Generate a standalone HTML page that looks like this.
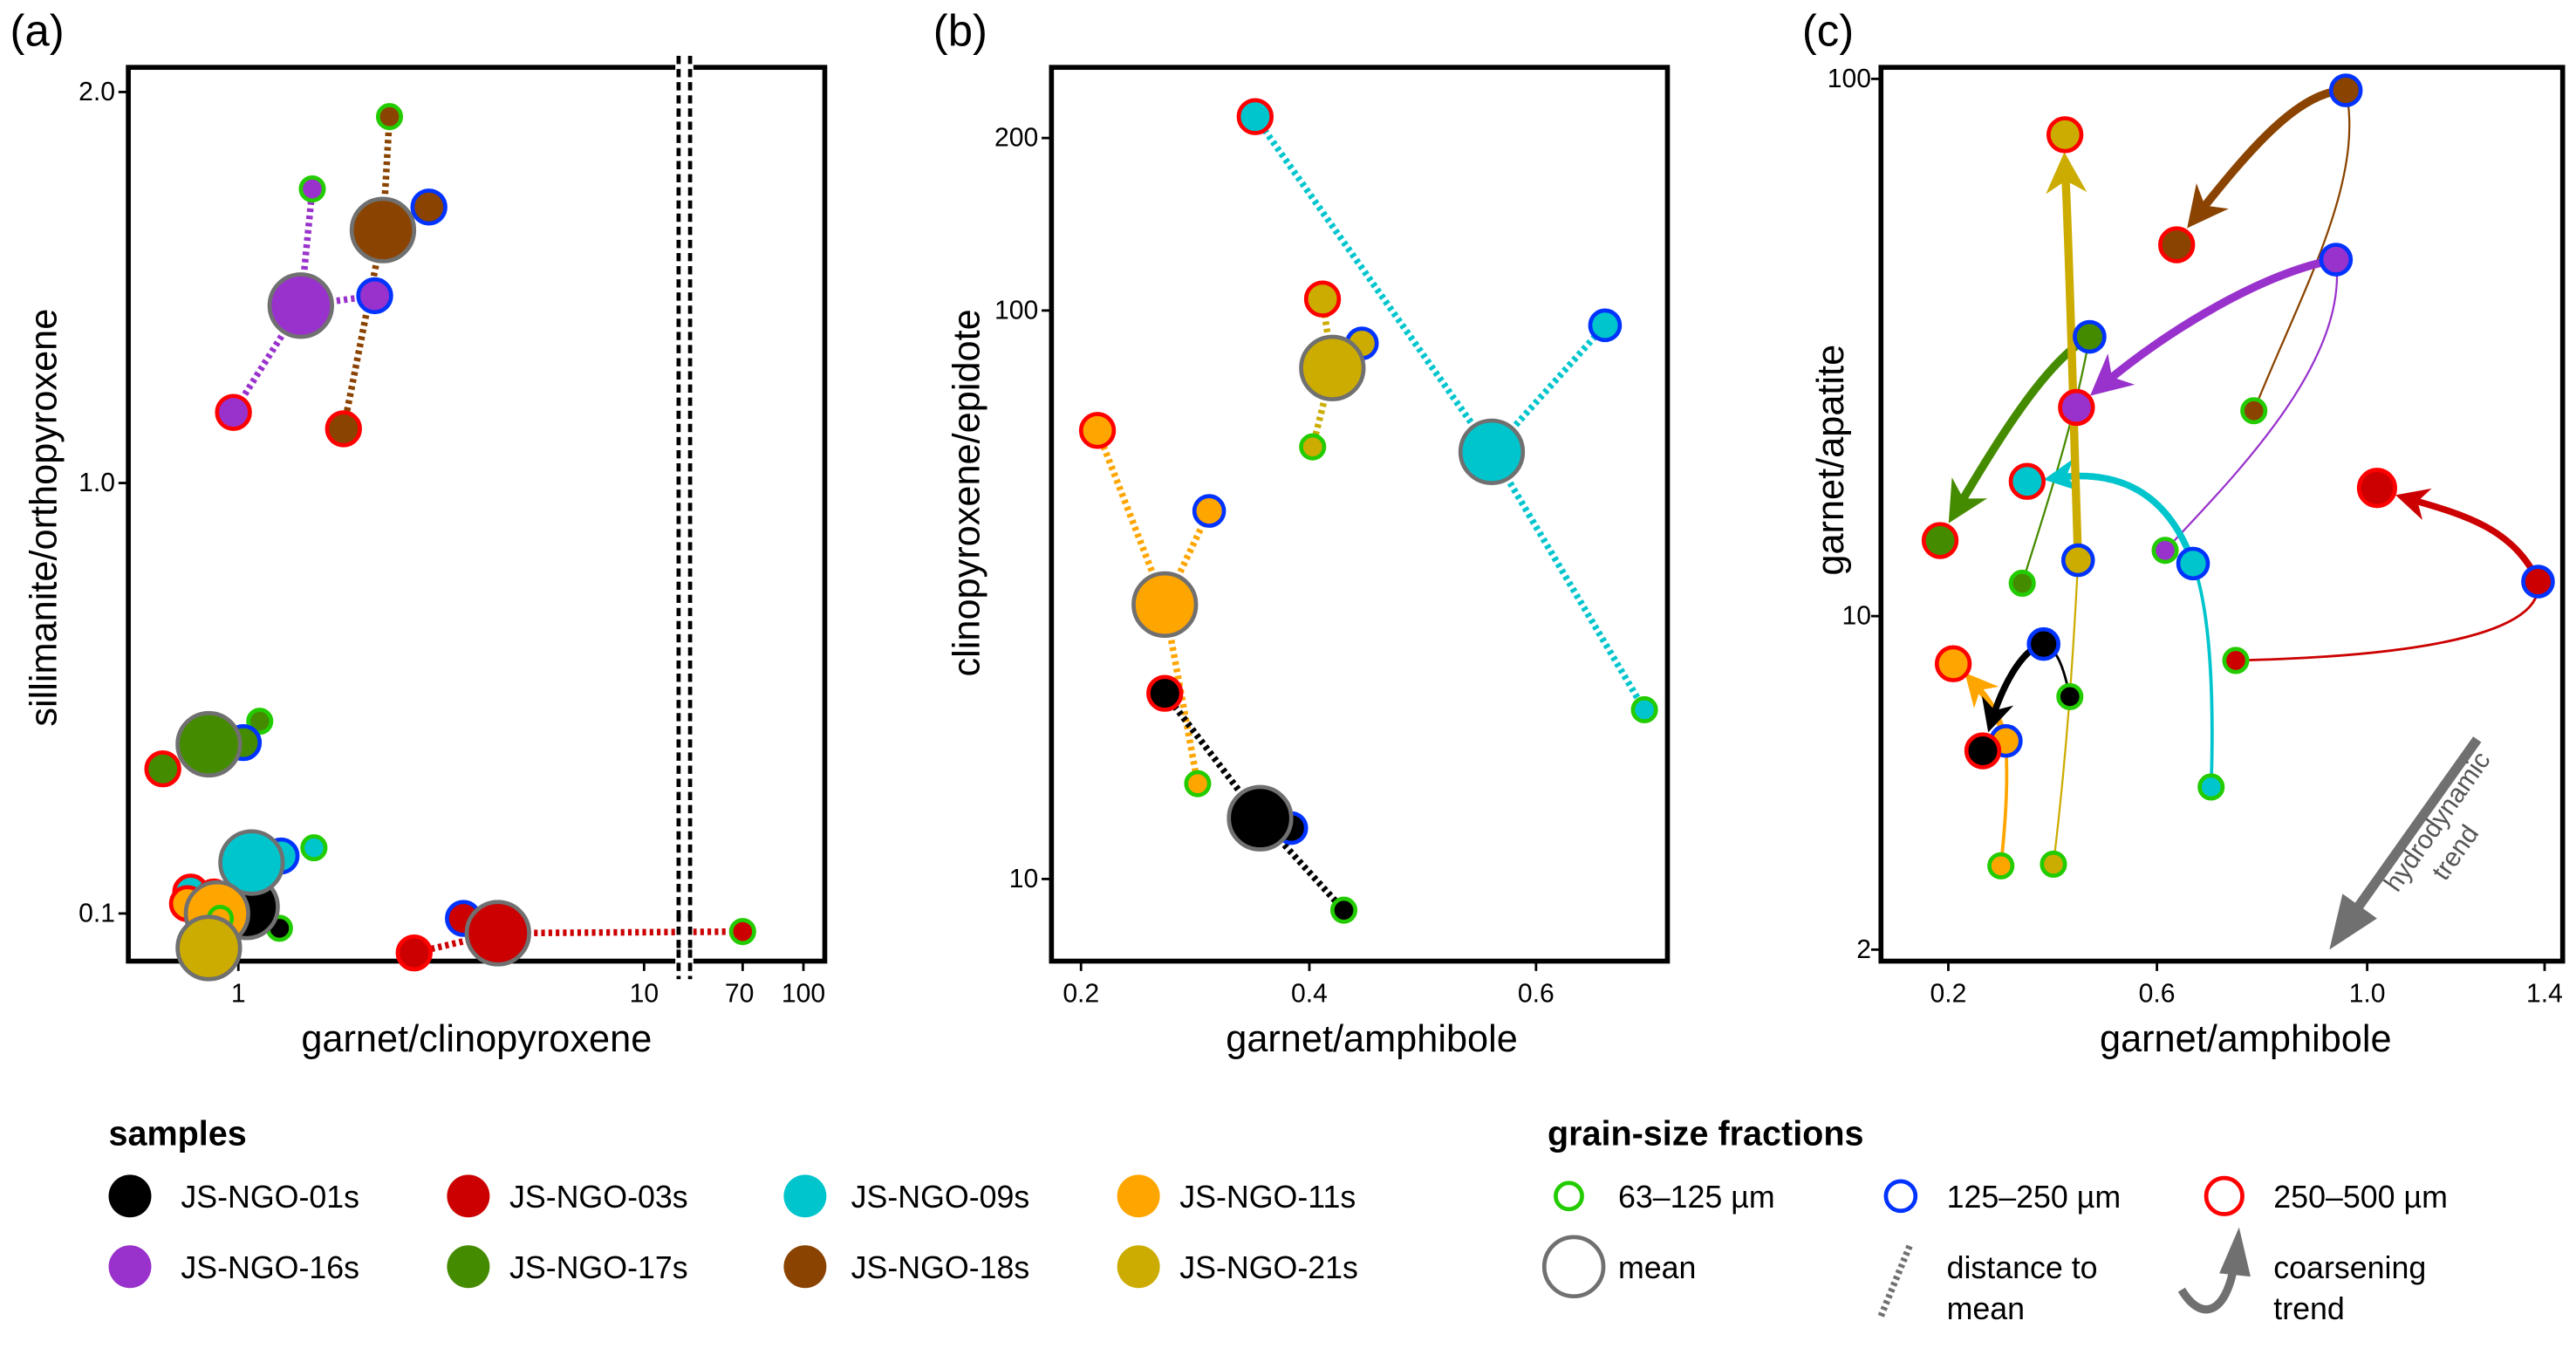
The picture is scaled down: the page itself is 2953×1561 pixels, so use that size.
<!DOCTYPE html>
<html><head><meta charset="utf-8"><style>
html,body{margin:0;padding:0;background:#fff;}
svg{display:block;}
text{font-family:"Liberation Sans",sans-serif;fill:#000;}
.tk{font-size:16px;}
.at{font-size:23px;}
.pl{font-size:27px;}
.lg{font-size:19px;}
.dot{stroke-width:4;stroke-dasharray:2.2 2.2;fill:none;}
.fr{fill:none;stroke:#000;stroke-width:3;}
</style></head><body>
<svg width="2953" height="1561" viewBox="0 0 1568 829" xmlns="http://www.w3.org/2000/svg">
<defs>
<marker id="ah" viewBox="0 0 10 10" refX="7" refY="5" markerWidth="5" markerHeight="5" orient="auto" markerUnits="strokeWidth"><path d="M0,0 L10,5 L0,10 L3,5 Z" fill="context-stroke"/></marker>
<marker id="ah2" viewBox="0 0 10 10" refX="7" refY="5" markerWidth="9" markerHeight="9" orient="auto" markerUnits="strokeWidth"><path d="M0,0 L10,5 L0,10 L3,5 Z" fill="context-stroke"/></marker>
</defs>

<!-- Panel (a) -->
<text class="pl" x="6" y="28">(a)</text>
<text class="at" transform="translate(34,315) rotate(-90)" text-anchor="middle">sillimanite/orthopyroxene</text>
<text class="at" x="290" y="640" text-anchor="middle">garnet/clinopyroxene</text>
<g class="tk" text-anchor="end">
<text x="70" y="61">2.0</text><text x="70" y="299">1.0</text><text x="70" y="561">0.1</text>
</g>
<g stroke="#000" stroke-width="1.5">
<line x1="72" y1="56" x2="78" y2="56"/><line x1="72" y1="294" x2="78" y2="294"/><line x1="72" y1="556" x2="78" y2="556"/>
<line x1="145" y1="585" x2="145" y2="591"/><line x1="392" y1="585" x2="392" y2="591"/><line x1="452" y1="585" x2="452" y2="591"/><line x1="489" y1="585" x2="489" y2="591"/>
</g>
<g class="tk" text-anchor="middle">
<text x="145" y="610">1</text><text x="392" y="610">10</text><text x="450" y="610">70</text><text x="489" y="610">100</text>
</g>
<rect class="fr" x="78" y="41" width="424" height="544"/>
<rect x="411" y="36" width="11" height="560" fill="#fff"/>
<g stroke="#000" stroke-width="2.5" stroke-dasharray="5 3"><line x1="413" y1="34" x2="413" y2="596"/><line x1="420" y1="34" x2="420" y2="596"/></g>

<g class="dot">
<path d="M233,140 L237,71 M233,140 L261,126 M233,140 L209,261" stroke="#8a4300"/>
<path d="M183,186 L190,115 M183,186 L228,180 M183,186 L142,251" stroke="#9932cc"/>
<path d="M303,568 L452,567 M303,568 L252,580 M303,568 L282,559" stroke="#cc0000"/>
</g>
<rect x="411" y="560" width="11" height="14" fill="#fff"/>
<g stroke="#000" stroke-width="2.5" stroke-dasharray="5 3"><line x1="413" y1="556" x2="413" y2="580"/><line x1="420" y1="556" x2="420" y2="580"/></g>
<g stroke-width="2.5">
<circle cx="237" cy="71" r="7" fill="#8a4300" stroke="#22cc00"/>
<circle cx="261" cy="126" r="10" fill="#8a4300" stroke="#0033ff"/>
<circle cx="209" cy="261" r="10" fill="#8a4300" stroke="#ff0000"/>
<circle cx="233" cy="140" r="19" fill="#8a4300" stroke="#707070"/>
<circle cx="190" cy="115" r="7" fill="#9932cc" stroke="#22cc00"/>
<circle cx="228" cy="180" r="10" fill="#9932cc" stroke="#0033ff"/>
<circle cx="142" cy="251" r="10" fill="#9932cc" stroke="#ff0000"/>
<circle cx="183" cy="186" r="19" fill="#9932cc" stroke="#707070"/>
<circle cx="158" cy="439" r="7" fill="#458b00" stroke="#22cc00"/>
<circle cx="148" cy="452" r="10" fill="#458b00" stroke="#0033ff"/>
<circle cx="99" cy="468" r="10" fill="#458b00" stroke="#ff0000"/>
<circle cx="127" cy="453" r="19" fill="#458b00" stroke="#707070"/>
<circle cx="191" cy="516" r="7" fill="#00c5cd" stroke="#22cc00"/>
<circle cx="171" cy="521" r="10" fill="#00c5cd" stroke="#0033ff"/>
<circle cx="116" cy="543" r="10" fill="#00c5cd" stroke="#ff0000"/>
<circle cx="130" cy="546" r="10" fill="#000" stroke="#ff0000"/>
<circle cx="170" cy="565" r="7" fill="#000" stroke="#22cc00"/>
<circle cx="150" cy="552" r="19" fill="#000" stroke="#707070"/>
<circle cx="114" cy="550" r="10" fill="#ffa500" stroke="#ff0000"/>
<circle cx="153" cy="525" r="19" fill="#00c5cd" stroke="#707070"/>
<circle cx="132" cy="556" r="19" fill="#ffa500" stroke="#707070"/>
<circle cx="134" cy="559" r="7" fill="#ffa500" stroke="#22cc00"/>
<circle cx="127" cy="577" r="19" fill="#ccac00" stroke="#707070"/>
<circle cx="452" cy="567" r="7" fill="#cc0000" stroke="#22cc00"/>
<circle cx="282" cy="559" r="10" fill="#cc0000" stroke="#0033ff"/>
<circle cx="252" cy="580" r="10" fill="#cc0000" stroke="#ff0000"/>
<circle cx="303" cy="568" r="19" fill="#cc0000" stroke="#707070"/>
</g>

<!-- Panel (b) -->
<text class="pl" x="568" y="28">(b)</text>
<text class="at" transform="translate(596,300) rotate(-90)" text-anchor="middle">clinopyroxene/epidote</text>
<text class="at" x="835" y="640" text-anchor="middle">garnet/amphibole</text>
<g class="tk" text-anchor="end">
<text x="632" y="89">200</text><text x="632" y="194">100</text><text x="632" y="540">10</text>
</g>
<g stroke="#000" stroke-width="1.5">
<line x1="634" y1="84" x2="640" y2="84"/><line x1="634" y1="189" x2="640" y2="189"/><line x1="634" y1="535" x2="640" y2="535"/>
<line x1="658" y1="585" x2="658" y2="591"/><line x1="797" y1="585" x2="797" y2="591"/><line x1="935" y1="585" x2="935" y2="591"/>
</g>
<g class="tk" text-anchor="middle">
<text x="658" y="610">0.2</text><text x="797" y="610">0.4</text><text x="935" y="610">0.6</text>
</g>
<rect class="fr" x="640" y="41" width="375" height="544"/>
<g class="dot">
<path d="M908,275 L764,71 M908,275 L977,198 M908,275 L1001,432" stroke="#00c5cd"/>
<path d="M811,224 L805,182 M811,224 L829,209 M811,224 L799,272" stroke="#ccac00"/>
<path d="M709,368 L668,262 M709,368 L736,311 M709,368 L729,477" stroke="#ffa500"/>
<path d="M767,498 L709,422 M767,498 L786,504 M767,498 L818,554" stroke="#000"/>
</g>
<g stroke-width="2.5">
<circle cx="764" cy="71" r="10" fill="#00c5cd" stroke="#ff0000"/>
<circle cx="977" cy="198" r="9" fill="#00c5cd" stroke="#0033ff"/>
<circle cx="1001" cy="432" r="7" fill="#00c5cd" stroke="#22cc00"/>
<circle cx="908" cy="275" r="19" fill="#00c5cd" stroke="#707070"/>
<circle cx="805" cy="182" r="10" fill="#ccac00" stroke="#ff0000"/>
<circle cx="829" cy="209" r="9" fill="#ccac00" stroke="#0033ff"/>
<circle cx="799" cy="272" r="7" fill="#ccac00" stroke="#22cc00"/>
<circle cx="811" cy="224" r="19" fill="#ccac00" stroke="#707070"/>
<circle cx="668" cy="262" r="10" fill="#ffa500" stroke="#ff0000"/>
<circle cx="736" cy="311" r="9" fill="#ffa500" stroke="#0033ff"/>
<circle cx="729" cy="477" r="7" fill="#ffa500" stroke="#22cc00"/>
<circle cx="709" cy="368" r="19" fill="#ffa500" stroke="#707070"/>
<circle cx="709" cy="422" r="10" fill="#000" stroke="#ff0000"/>
<circle cx="786" cy="504" r="9" fill="#000" stroke="#0033ff"/>
<circle cx="818" cy="554" r="7" fill="#000" stroke="#22cc00"/>
<circle cx="767" cy="498" r="19" fill="#000" stroke="#707070"/>
</g>

<!-- Panel (c) -->
<text class="pl" x="1097" y="28">(c)</text>
<text class="at" transform="translate(1122,280) rotate(-90)" text-anchor="middle">garnet/apatite</text>
<text class="at" x="1367" y="640" text-anchor="middle">garnet/amphibole</text>
<g class="tk" text-anchor="end">
<text x="1139" y="53">100</text><text x="1139" y="380">10</text><text x="1139" y="583">2</text>
</g>
<g stroke="#000" stroke-width="1.5">
<line x1="1139" y1="48" x2="1145" y2="48"/><line x1="1139" y1="375" x2="1145" y2="375"/><line x1="1139" y1="578" x2="1145" y2="578"/>
<line x1="1186" y1="585" x2="1186" y2="591"/><line x1="1313" y1="585" x2="1313" y2="591"/><line x1="1441" y1="585" x2="1441" y2="591"/><line x1="1549" y1="585" x2="1549" y2="591"/>
</g>
<g class="tk" text-anchor="middle">
<text x="1186" y="610">0.2</text><text x="1313" y="610">0.6</text><text x="1441" y="610">1.0</text><text x="1549" y="610">1.4</text>
</g>
<rect class="fr" x="1145" y="41" width="415" height="544"/>

<!-- hydrodynamic trend -->
<line x1="1508" y1="450" x2="1432" y2="557" stroke="#707070" stroke-width="6"/>
<polygon points="1418,578 1426,544 1447,559" fill="#707070"/>
<text transform="translate(1488,503) rotate(-55)" text-anchor="middle" font-size="16" style="fill:#555">hydrodynamic</text>
<text transform="translate(1499,522) rotate(-55)" text-anchor="middle" font-size="16" style="fill:#555">trend</text>

<g fill="none" stroke-linecap="round">
<path d="M1372,250 C1400,180 1440,110 1428,55" stroke="#8a4300" stroke-width="1.2"/>
<path d="M1318,335 C1360,290 1430,220 1422,158" stroke="#9932cc" stroke-width="1.2"/>
<path d="M1231,355 C1245,310 1262,260 1272,205" stroke="#458b00" stroke-width="1.2"/>
<path d="M1346,479 C1348,420 1345,370 1335,343" stroke="#00c5cd" stroke-width="2"/>
<path d="M1250,526 C1258,460 1262,400 1265,341" stroke="#ccac00" stroke-width="1.2"/>
<path d="M1218,527 C1222,490 1222,470 1221,451" stroke="#ffa500" stroke-width="2"/>
<path d="M1260,424 C1256,405 1252,395 1244,392" stroke="#000" stroke-width="1.5"/>
<path d="M1361,402 C1450,400 1550,390 1545,354" stroke="#cc0000" stroke-width="1.5"/>
<path d="M1428,55 C1400,55 1370,90 1336,133" stroke="#8a4300" stroke-width="5" marker-end="url(#ah)"/>
<path d="M1422,158 C1380,165 1320,200 1278,236" stroke="#9932cc" stroke-width="5" marker-end="url(#ah)"/>
<path d="M1272,205 C1245,220 1215,270 1190,312" stroke="#458b00" stroke-width="5" marker-end="url(#ah)"/>
<path d="M1335,343 C1320,300 1290,285 1250,291" stroke="#00c5cd" stroke-width="4" marker-end="url(#ah)"/>
<path d="M1265,341 C1262,250 1260,160 1257,100" stroke="#ccac00" stroke-width="5" marker-end="url(#ah)"/>
<path d="M1221,451 C1215,430 1207,422 1200,414" stroke="#ffa500" stroke-width="4" marker-end="url(#ah)"/>
<path d="M1244,392 C1230,395 1218,420 1212,440" stroke="#000" stroke-width="4" marker-end="url(#ah)"/>
<path d="M1545,354 C1530,320 1495,312 1464,303" stroke="#cc0000" stroke-width="4" marker-end="url(#ah)"/>
</g>
<g stroke-width="2.5">
<circle cx="1372" cy="250" r="7" fill="#8a4300" stroke="#22cc00"/>
<circle cx="1428" cy="55" r="9" fill="#8a4300" stroke="#0033ff"/>
<circle cx="1325" cy="149" r="10" fill="#8a4300" stroke="#ff0000"/>
<circle cx="1318" cy="335" r="7" fill="#9932cc" stroke="#22cc00"/>
<circle cx="1422" cy="158" r="9" fill="#9932cc" stroke="#0033ff"/>
<circle cx="1264" cy="248" r="10" fill="#9932cc" stroke="#ff0000"/>
<circle cx="1231" cy="355" r="7" fill="#458b00" stroke="#22cc00"/>
<circle cx="1272" cy="205" r="9" fill="#458b00" stroke="#0033ff"/>
<circle cx="1181" cy="329" r="10" fill="#458b00" stroke="#ff0000"/>
<circle cx="1346" cy="479" r="7" fill="#00c5cd" stroke="#22cc00"/>
<circle cx="1335" cy="343" r="9" fill="#00c5cd" stroke="#0033ff"/>
<circle cx="1234" cy="293" r="10" fill="#00c5cd" stroke="#ff0000"/>
<circle cx="1250" cy="526" r="7" fill="#ccac00" stroke="#22cc00"/>
<circle cx="1265" cy="341" r="9" fill="#ccac00" stroke="#0033ff"/>
<circle cx="1257" cy="82" r="10" fill="#ccac00" stroke="#ff0000"/>
<circle cx="1218" cy="527" r="7" fill="#ffa500" stroke="#22cc00"/>
<circle cx="1221" cy="451" r="9" fill="#ffa500" stroke="#0033ff"/>
<circle cx="1189" cy="404" r="10" fill="#ffa500" stroke="#ff0000"/>
<circle cx="1260" cy="424" r="7" fill="#000" stroke="#22cc00"/>
<circle cx="1244" cy="392" r="9" fill="#000" stroke="#0033ff"/>
<circle cx="1207" cy="457" r="10" fill="#000" stroke="#ff0000"/>
<circle cx="1361" cy="402" r="7" fill="#cc0000" stroke="#22cc00"/>
<circle cx="1545" cy="354" r="9" fill="#cc0000" stroke="#0033ff"/>
<circle cx="1447" cy="297" r="11" fill="#cc0000" stroke="#ff0000"/>
</g>

<!-- Legend: samples -->
<text x="66" y="697" font-size="21" font-weight="bold">samples</text>
<g>
<circle cx="79" cy="728" r="13" fill="#000"/><text class="lg" x="110" y="735">JS-NGO-01s</text>
<circle cx="285" cy="728" r="13" fill="#cc0000"/><text class="lg" x="310" y="735">JS-NGO-03s</text>
<circle cx="490" cy="728" r="13" fill="#00c5cd"/><text class="lg" x="518" y="735">JS-NGO-09s</text>
<circle cx="693" cy="728" r="13" fill="#ffa500"/><text class="lg" x="718" y="735">JS-NGO-11s</text>
<circle cx="79" cy="771" r="13" fill="#9932cc"/><text class="lg" x="110" y="778">JS-NGO-16s</text>
<circle cx="285" cy="771" r="13" fill="#458b00"/><text class="lg" x="310" y="778">JS-NGO-17s</text>
<circle cx="490" cy="771" r="13" fill="#8a4300"/><text class="lg" x="518" y="778">JS-NGO-18s</text>
<circle cx="693" cy="771" r="13" fill="#ccac00"/><text class="lg" x="718" y="778">JS-NGO-21s</text>
</g>

<!-- Legend: grain-size fractions -->
<text x="942" y="697" font-size="21" font-weight="bold">grain-size fractions</text>
<circle cx="955" cy="728" r="8" fill="none" stroke="#22cc00" stroke-width="2.5"/><text class="lg" x="985" y="735">63–125 µm</text>
<circle cx="1157" cy="728" r="9" fill="none" stroke="#0033ff" stroke-width="2.5"/><text class="lg" x="1185" y="735">125–250 µm</text>
<circle cx="1354" cy="728" r="11" fill="none" stroke="#ff0000" stroke-width="2.5"/><text class="lg" x="1384" y="735">250–500 µm</text>
<circle cx="958" cy="771" r="18" fill="none" stroke="#707070" stroke-width="2.5"/><text class="lg" x="985" y="778">mean</text>
<line x1="1145" y1="801" x2="1163" y2="757" stroke="#707070" stroke-width="4" stroke-dasharray="2 2"/>
<text class="lg" x="1185" y="778">distance to</text><text class="lg" x="1185" y="803">mean</text>
<path d="M1328,785 C1340,805 1355,800 1360,770" fill="none" stroke="#707070" stroke-width="5"/>
<polygon points="1363,747 1351,775 1370,777" fill="#707070"/>
<text class="lg" x="1384" y="778">coarsening</text><text class="lg" x="1384" y="803">trend</text>
</svg>
</body></html>
